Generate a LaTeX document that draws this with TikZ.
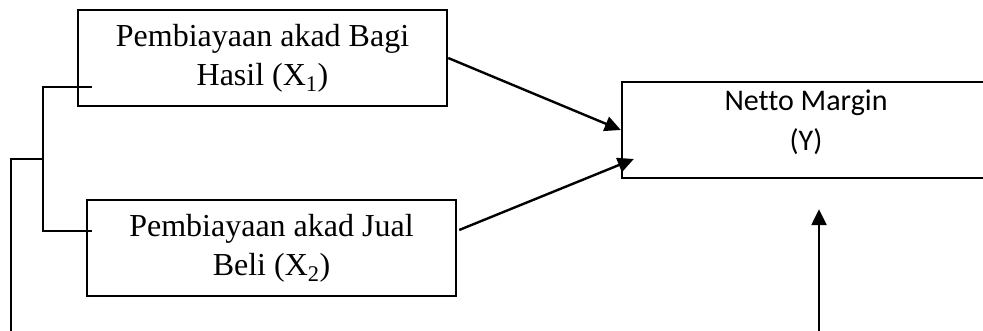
\documentclass[tikz,border=0pt]{standalone}
\usepackage{fontspec}
\setmainfont{Liberation Serif}
\newfontfamily\calibrifont[Ligatures=NoCommon]{Carlito}
\usetikzlibrary{arrows.meta}
\begin{document}
\begin{tikzpicture}[x=1pt,y=-1pt,line width=2.4pt,
  varbox/.style={draw,minimum width=369pt,minimum height=96pt,inner sep=0pt,
    align=center,font=\fontsize{32}{39}\selectfont},
  outbox/.style={draw,minimum width=368pt,minimum height=96pt,inner sep=0pt,
    align=center,font=\calibrifont\fontsize{30}{40}\selectfont},
  link/.style={-{Triangle[length=16pt,width=15pt]}}]
\useasboundingbox (0,0) rectangle (983,331);
\clip (0,0) rectangle (983,331);

% independent variables
\node[varbox] (X1) at (262.5,58) {Pembiayaan akad Bagi\\Hasil (X\textsubscript{1})};
\node[varbox] (X2) at (271.5,248) {Pembiayaan akad Jual\\Beli (X\textsubscript{2})};

% dependent variable (runs off the right edge); the strut lifts the text a little
\node[outbox] (Y) at (806,130) {Netto Margin\\(Y)\rule[-19pt]{0pt}{19pt}};

% bracket joining the two financing variables
\coordinate (b1) at (92,87);
\coordinate (k1) at (43,87);
\coordinate (k2) at (43,231);
\coordinate (b2) at (92,231);
\coordinate (j) at (43,159);
\coordinate (jl) at (11,159);
\coordinate (foot) at (11,335);
\draw (b1) -- (k1) -- (k2) -- (b2);
\draw (j) -- (jl) -- (foot);

% effects on the margin
\draw[link] (X1.east) -- (Y.west);
\draw[link] ([shift={(2,-18)}]X2.east) -- ([shift={(13,29)}]Y.west);

% simultaneous effect from below
\coordinate (src) at (819,335);
\draw[link] (src) -- ([shift={(13,30)}]Y.south);
\end{tikzpicture}
\end{document}
